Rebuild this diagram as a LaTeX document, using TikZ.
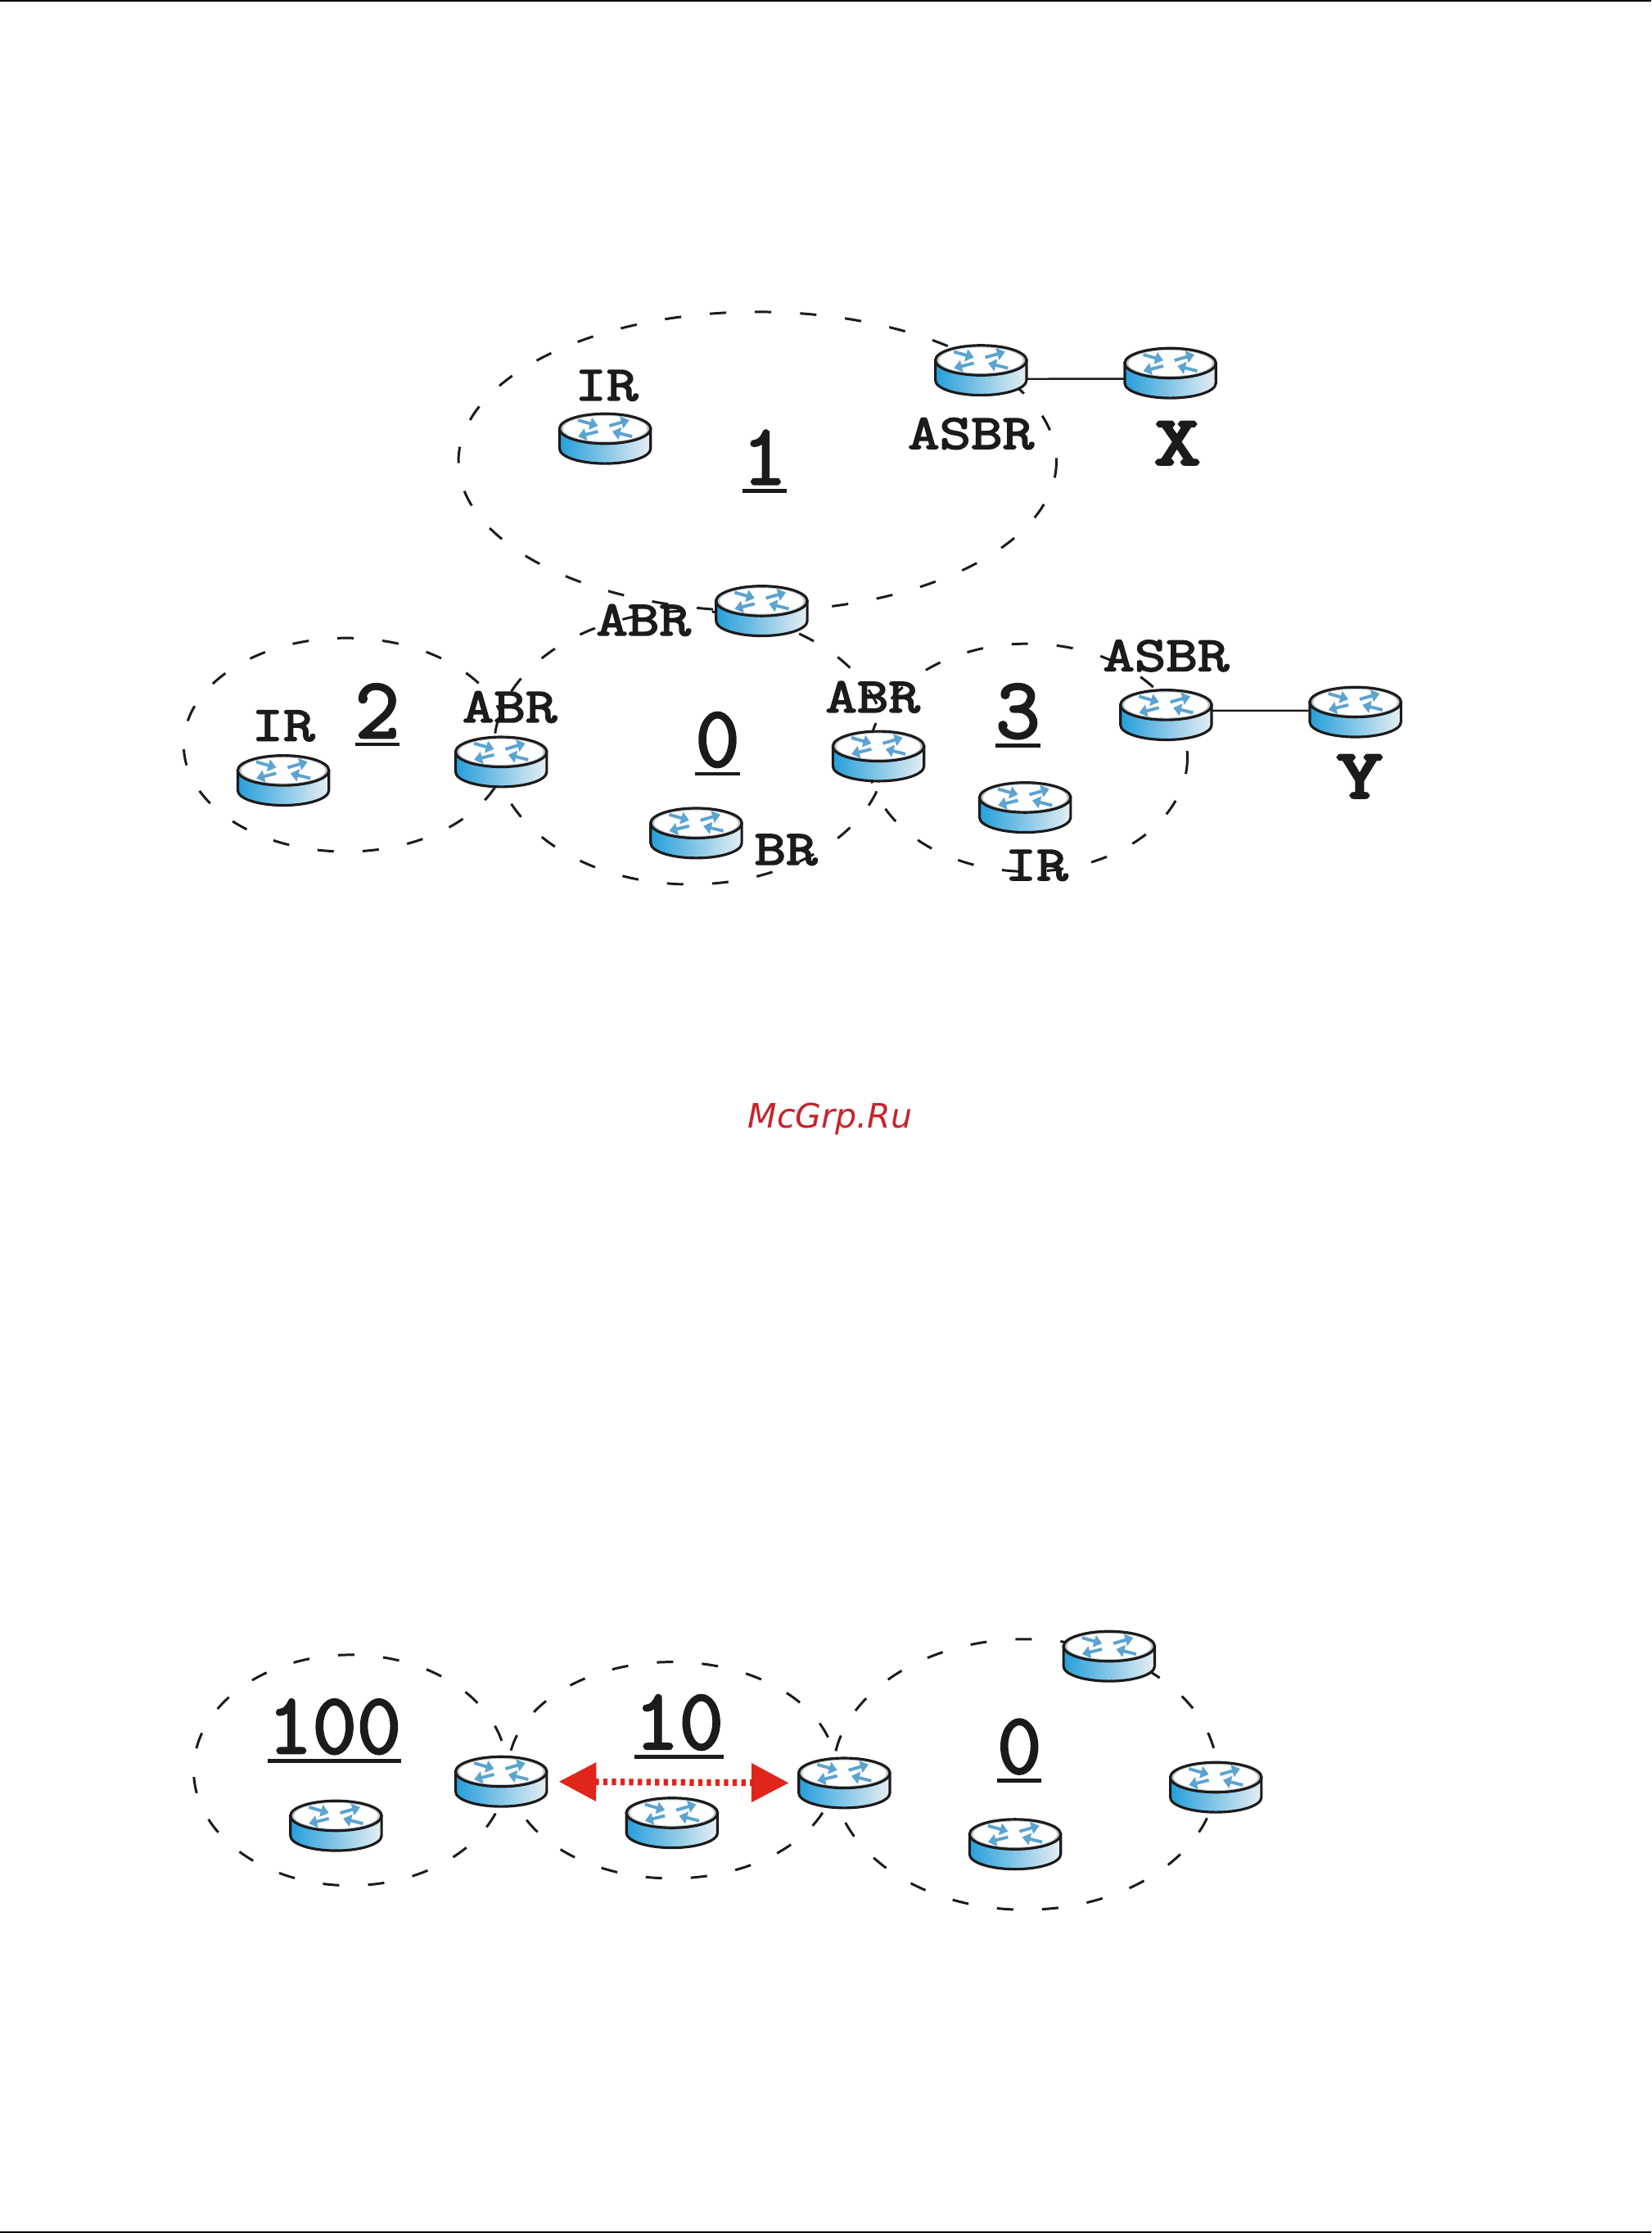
\documentclass[tikz,border=0pt]{standalone}
\usepackage{fontspec}
\usetikzlibrary{arrows.meta}

\newfontfamily\labelfont[FakeBold=3.2,FakeStretch=1.25]{Latin Modern Mono}
\newfontfamily\numfont[FakeBold=2.6]{Latin Modern Mono}
\newfontfamily\sitefont[FakeBold=4.5,FakeStretch=1.3]{Latin Modern Mono}
\newfontfamily\markfont{DejaVu Sans}

\definecolor{routerblue}{HTML}{259FDB}
\definecolor{routerpale}{HTML}{E6EEF3}
\definecolor{routerring}{HTML}{B9C7CF}
\definecolor{routerflow}{HTML}{5BA3D0}
\definecolor{linkred}{HTML}{E0251B}
\definecolor{markred}{HTML}{C4252B}
\definecolor{inkdark}{HTML}{1C1A1A}

\newcommand{\areanum}[1]{\vtop{\hbox{#1}\kern1.6pt\hrule height 1.4pt}}

\tikzset{
    areazone/.style={draw=inkdark, line width=0.85pt, dash pattern=on 5.7pt off 10pt},
    tag/.style={font=\labelfont\fontsize{17}{17}\selectfont, text=inkdark, anchor=base, inner sep=0pt},
    site/.style={font=\sitefont\fontsize{24}{24}\selectfont, text=inkdark, anchor=base, inner sep=0pt},
    areatag/.style={font=\numfont\fontsize{30}{30}\selectfont, text=inkdark, anchor=base, inner sep=0pt},
    wire/.style={draw=inkdark, line width=0.7pt},
    flow/.style={draw=routerflow, line width=1.1pt, -{Triangle[length=2.8pt,width=4.2pt]}},
    redlink/.style={draw=linkred, line width=2.3pt, dash pattern=on 1.5pt off 1.5pt,
        {Triangle[length=13pt,width=13pt,fill=linkred]}-{Triangle[length=13pt,width=13pt,fill=linkred]},
        shorten <=4pt, shorten >=3.2pt},
    routerbody/.style={minimum width=31.7pt, minimum height=17.3pt, inner sep=0pt},
    router/.pic={
        \node[routerbody] (-body) at (0,0) {};
        \path[left color=routerblue, right color=routerpale, draw=inkdark, line width=0.9pt]
            (-32,-7) -- (-32,7) arc [start angle=180, end angle=0, x radius=32, y radius=10.5]
            -- (32,-7) -- cycle;
        \filldraw[fill=routerring, draw=inkdark, line width=0.9pt] (0,-7) ellipse [x radius=32, y radius=10.5];
        \fill[white] (0,-7) ellipse [x radius=29.5, y radius=9];
        \foreach \ax/\ay/\bx/\by in {-19/-13/-5/-9, 3/-9/17/-13, -5/-5/-19/-1.5, 19/-1.5/5/-5}
            \draw[flow] (\ax,\ay) -- (\bx,\by);
    }
}

\begin{document}
\begin{tikzpicture}[x=0.017397cm, y=-0.017392cm]
    \useasboundingbox (0,0) rectangle (1160,1568);

    \fill[black] (0,0) rectangle (1160,1.2);
    \fill[black] (0,1566.8) rectangle (1160,1568);

    \coordinate (areaone) at (532,324);
    \coordinate (areatwo) at (243,523);
    \coordinate (areazero) at (485,525);
    \coordinate (areathree) at (722,532);
    \coordinate (areahundred) at (246,1243);
    \coordinate (areaten) at (472,1243);
    \coordinate (areabase) at (720,1246);

    \draw[areazone] (areaone) ellipse [x radius=210, y radius=105];
    \draw[areazone] (areatwo) ellipse [x radius=114, y radius=75];
    \draw[areazone] (areazero) ellipse [x radius=138, y radius=96];
    \draw[areazone] (areathree) ellipse [x radius=112, y radius=80];
    \draw[areazone] (areahundred) ellipse [x radius=110, y radius=81];
    \draw[areazone] (areaten) ellipse [x radius=115, y radius=76];
    \draw[areazone] (areabase) ellipse [x radius=135, y radius=95];

    \pic (irone) at (425,308) {router};
    \pic (asbrone) at (689,260) {router};
    \pic (xrouter) at (822,262) {router};
    \pic (abrtop) at (535,429) {router};
    \pic (irtwo) at (199,548) {router};
    \pic (abrleft) at (352,535) {router};
    \pic (brzero) at (489,585) {router};
    \pic (abrright) at (617,531) {router};
    \pic (irthree) at (720,567) {router};
    \pic (asbrthree) at (819,502) {router};
    \pic (yrouter) at (952,500) {router};

    \pic (hundredin) at (236,1282) {router};
    \pic (borderleft) at (352,1251) {router};
    \pic (tenin) at (472,1280) {router};
    \pic (borderright) at (593,1252) {router};
    \pic (basetop) at (779,1163) {router};
    \pic (baseright) at (854,1255) {router};
    \pic (basein) at (713,1295) {router};

    \draw[wire] ([yshift=-3pt]asbrone-body.east) -- ([yshift=-2pt]xrouter-body.west);
    \draw[wire] ([yshift=1.5pt]asbrthree-body.east) -- ([yshift=0.5pt]yrouter-body.west);
    \draw[redlink] (borderleft-body.east) -- (borderright-body.west);

    \node[tag] (tagirone) at (426,281) {IR};
    \node[tag] (tagasbrone) at (682,315) {ASBR};
    \node[site] (tagx) at (827,326) {X};
    \node[tag] (tagabrtop) at (452,446) {ABR};
    \node[tag] (tagirtwo) at (199,520) {IR};
    \node[tag] (tagabrleft) at (358,507) {ABR};
    \node[tag] (tagbr) at (552,607) {BR};
    \node[tag] (tagabrright) at (613,500) {ABR};
    \node[tag] (tagirthree) at (728,618) {IR};
    \node[tag] (tagasbrthree) at (819,471) {ASBR};
    \node[site] (tagy) at (955,560) {Y};

    \node[areatag] (numone) at (537,340) {\areanum{1}};
    \node[areatag] (numtwo) at (265,518) {\areanum{2}};
    \node[areatag] (numzero) at (504,538) {\areanum{0}};
    \node[areatag] (numthree) at (715,518) {\areanum{3}};
    \node[areatag] (numhundred) at (235,1231) {\areanum{100}};
    \node[areatag] (numten) at (477,1228) {\areanum{10}};
    \node[areatag] (numbase) at (716,1245) {\areanum{0}};

    \node[anchor=base, inner sep=0pt, text=markred] (site) at (583,792) {\markfont\itshape\fontsize{11.7}{12}\selectfont McGrp.Ru};
\end{tikzpicture}
\end{document}
